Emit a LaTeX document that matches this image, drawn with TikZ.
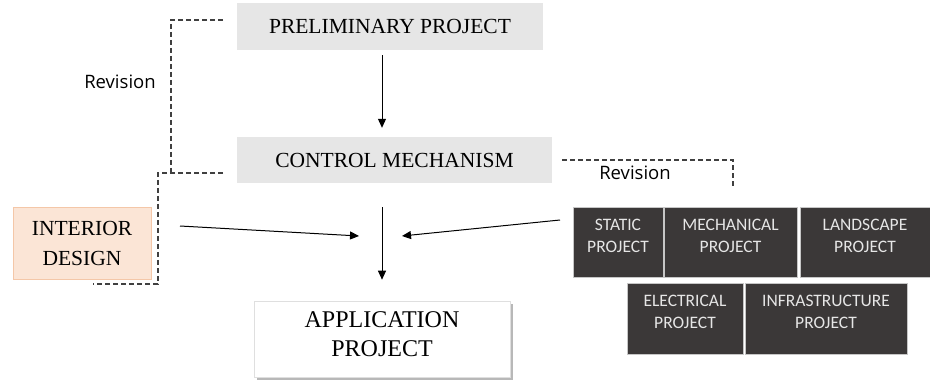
\documentclass[tikz,border=0pt]{standalone}
\usepackage{fontspec}
\setmainfont{Liberation Serif}
\newfontfamily\boxfont{Carlito}
\newfontfamily\revfont{Open Sans}
\usepackage{xcolor}
\usetikzlibrary{arrows.meta,shadows}
\definecolor{lightgrey}{HTML}{e6e6e6}
\definecolor{peach}{HTML}{fbe5d6}
\definecolor{peachline}{HTML}{f4c7a8}
\definecolor{darkbox}{HTML}{3b3838}
\definecolor{dashgrey}{HTML}{404040}

\tikzset{
  stage/.style={fill=lightgrey, inner sep=0pt, align=center, font=\fontsize{21.5}{26}\selectfont},
  partbox/.style={fill=darkbox, draw=gray!45, line width=0.6pt, inner sep=0pt, align=center,
    text depth=13pt, text=lightgrey, font=\boxfont\fontsize{17.5}{22}\selectfont},
  arr/.style={line width=1pt, -{Triangle[length=9pt,width=8pt]}},
  revline/.style={dashgrey, line width=1.2pt, dash pattern=on 5pt off 3pt},
  revlabel/.style={font=\revfont\fontsize{18.5}{22}\selectfont, inner sep=0pt}
}

\begin{document}
\begin{tikzpicture}[x=1pt,y=1pt,yscale=-1,xscale=1]
	\useasboundingbox (0,0) rectangle (930,385);
	% stages
	\node [stage, minimum width=306pt, minimum height=47pt] (prelim) at (390,26.5) {PRELIMINARY PROJECT};
	\node [stage, minimum width=315pt, minimum height=46pt] (ctrl) at (394.5,160) {CONTROL MECHANISM};
	\node [fill=peach, draw=peachline, line width=0.8pt, minimum width=138pt, minimum height=72pt, inner sep=0pt, align=center,
	  font=\fontsize{21.5}{30}\selectfont] (interior) at (82,243) {INTERIOR\\DESIGN};
	\node [fill=white, draw=gray!25, line width=0.6pt, minimum width=256pt, minimum height=76pt, inner sep=0pt, align=center,
	  drop shadow={shadow xshift=3pt, shadow yshift=-3pt, fill=gray!70, opacity=0.8},
	  text depth=9pt, font=\fontsize{24}{29}\selectfont] (app) at (382,339) {APPLICATION\\PROJECT};
	% project boxes
	\node [partbox, minimum width=90pt, minimum height=70pt] (static) at (618,242) {STATIC\\PROJECT};
	\node [partbox, minimum width=133pt, minimum height=70pt] (mech) at (730.5,242) {MECHANICAL\\PROJECT};
	\node [partbox, minimum width=130pt, minimum height=70pt] (land) at (865,242) {LANDSCAPE\\PROJECT};
	\node [partbox, minimum width=116pt, minimum height=71pt] (elec) at (685,318.5) {ELECTRICAL\\PROJECT};
	\node [partbox, minimum width=162pt, minimum height=71pt] (infra) at (826,318.5) {INFRASTRUCTURE\\PROJECT};
	% revision loops
	\draw [revline] (223,20) -- (171,20) -- (171,173);
	\draw [revline] (223,173) -- (158,173) -- (158,284) -- (93,284);
	\draw [revline] ([xshift=10pt]ctrl.east) -| (733,187);
	\node [revlabel] (revleft) at (120,82) {Revision};
	\node [revlabel] (revright) at (635,173) {Revision};
	% arrows
	\coordinate (hub) at (382,236);
	\coordinate (hubW) at (359,236);
	\coordinate (hubE) at (402,236);
	\coordinate (intout) at (180,226);
	\coordinate (statout) at (560,220);
	\draw [arr, shorten <=5pt, shorten >=9pt] (prelim.south -| hub) -- (ctrl.north -| hub);
	\draw [arr, shorten <=24pt, shorten >=21pt] (ctrl.south -| hub) -- (app.north);
	\draw [arr] (intout) -- (hubW);
	\draw [arr] (statout) -- (hubE);
\end{tikzpicture}
\end{document}
